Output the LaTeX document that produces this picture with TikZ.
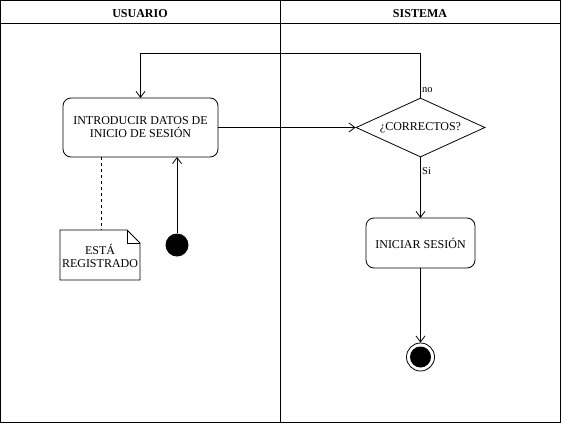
\documentclass[tikz,border=0pt]{standalone}
\usepackage{fontspec}
\setmainfont{Liberation Serif}
\usetikzlibrary{shapes.geometric,arrows.meta}
\begin{document}
\begin{tikzpicture}[x=1pt,y=-1pt,
  lane/.style={draw=black,line width=0.9pt},
  act/.style={draw=black,line width=0.8pt,rounded corners=8pt,align=center,font=\fontsize{12}{14}\selectfont},
  dec/.style={draw=black,line width=0.8pt,diamond,aspect=2.2,inner sep=0pt,font=\fontsize{12}{14}\selectfont},
  flow/.style={draw=black,line width=0.8pt,-{Straight Barb[length=6pt,width=9pt,line width=0.8pt]}},
  lbl/.style={font=\fontsize{10.5}{11}\selectfont,inner sep=1pt},
  hdr/.style={font=\bfseries\fontsize{12}{14}\selectfont},
  txt/.style={font=\fontsize{12}{14}\selectfont,align=center}
]
\useasboundingbox (0,0) rectangle (561,423);
% swimlanes
\draw[lane] (0.5,0.5) rectangle (560.5,422.5);
\draw[lane] (0.5,23.5) -- (560.5,23.5);
\draw[lane] (280.5,0.5) -- (280.5,422.5);
\node[hdr] (hu) at (140,14) {USUARIO};
\node[hdr] (hs) at (420,14) {SISTEMA};
% activities
\draw[act] (63,98) rectangle (218,157);
\node[txt] (intro) at (140.5,127.5) {INTRODUCIR DATOS DE\\[-1pt]INICIO DE SESIÓN};
\coordinate (introT) at (140.5,98);
\coordinate (introR) at (218,127.5);
\coordinate (introB1) at (101,157);
\coordinate (introB2) at (177,157);
\node[dec,minimum width=129pt,minimum height=59pt] (dec) at (420.5,127.5) {¿CORRECTOS?};
\draw[act] (366,218) rectangle (475,268);
\node[txt] (ini) at (420.5,243) {INICIAR SESIÓN};
\coordinate (iniT) at (420.5,218);
\coordinate (iniB) at (420.5,268);
% start and end
\node[circle,fill=black,minimum size=23pt,inner sep=0pt] (start) at (177,245) {};
\node[circle,draw=black,line width=0.8pt,fill=white,minimum size=28pt,inner sep=0pt] (endo) at (420.5,357) {};
\node[circle,fill=black,minimum size=21pt,inner sep=0pt] (endi) at (420.5,357) {};
% note
\draw[line width=0.8pt] (60,230) -- (127,230) -- (140,243) -- (140,280) -- (60,280) -- cycle;
\draw[line width=0.8pt] (127,230) -- (127,243) -- (140,243);
\node[txt] (note) at (100,255.5) {ESTÁ\\[-1pt]REGISTRADO};
\coordinate (noteT) at (101,230);
% connectors
\draw[dashed,line width=0.8pt] (introB1) -- (noteT);
\draw[flow] (start) -- (introB2);
\draw[flow] (introR) -- (dec.west);
\draw[flow] (dec.north) -- (420.5,53.5) -- (140.5,53.5) -- (introT);
\draw[flow] (dec.south) -- (iniT);
\draw[flow] (iniB) -- (endo.north);
\node[lbl,anchor=west] (no) at (421,90) {no};
\node[lbl,anchor=west] (si) at (421,171) {Si};
\end{tikzpicture}
\end{document}
